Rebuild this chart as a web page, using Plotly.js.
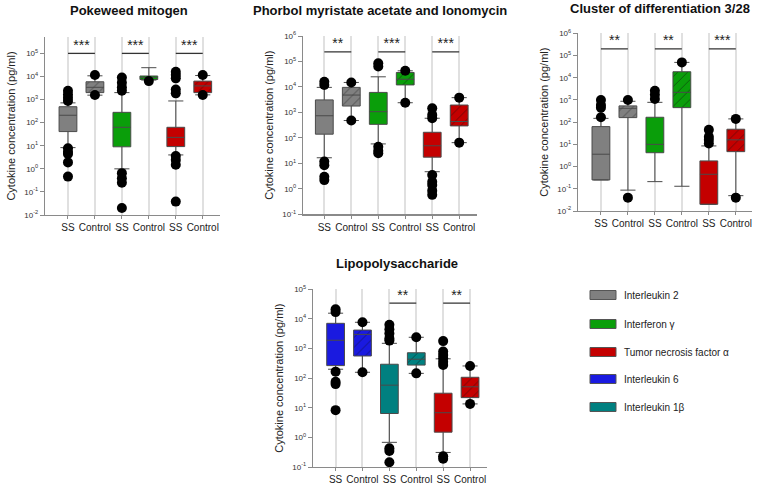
<!DOCTYPE html>
<html><head><meta charset="utf-8">
<script src="https://cdn.plot.ly/plotly-3.0.1.min.js"></script>
<style>body{margin:0;background:#fff}#chart{width:760px;height:486px}</style>
</head><body><div id="chart"></div>
<script>
// ---------- data ----------
const categories = ['SS', 'Control', 'SS', 'Control', 'SS', 'Control'];
const panelTitles = ['Pokeweed mitogen', 'Phorbol myristate acetate and Ionomycin', 'Cluster of differentiation 3/28', 'Lipopolysaccharide'];
const legendLabels = ['Interleukin 2', 'Interferon γ', 'Tumor necrosis factor α', 'Interleukin 6', 'Interleukin 1β'];

// Pokeweed mitogen (IL-2, IFN-γ, TNF-α)
const pwmQ1  = [41, 2000, 9, 7400, 9.2, 2000];
const pwmMed = [209, 3400, 63, 9100, 23, 3900];
const pwmQ3  = [490, 5900, 280, 10500, 63, 6300];
const pwmLo  = [8.3, 1550, 1, 7000, 4, 1600];
const pwmHi  = [720, 10700, 2000, 24000, 870, 11000];
const pwmOut = [[2400, 1660, 1200, 870, 7.8, 5.5, 4.4, 1.9, 0.46], [11500, 1580],
                [9000, 5400, 3400, 2400, 0.65, 0.39, 0.25, 0.02], [6300],
                [16000, 11500, 8300, 2750, 1860, 3.6, 2.4, 1.5, 0.038], [11500, 1580]];
const pwmSig = ['***', '***', '***'];
const pwmSigLevel = 100000;

// PMA + Ionomycin
const pmaQ1  = [140, 1780, 340, 12000, 17.5, 295];
const pmaMed = [740, 4800, 1070, 20000, 49, 440];
const pmaQ3  = [3100, 9600, 6100, 37000, 166, 1950];
const pmaLo  = [16.6, 480, 58, 2400, 4.7, 65];
const pmaHi  = [9600, 15000, 25000, 43000, 590, 3800];
const pmaOut = [[16000, 12000, 11.7, 8.5, 3, 2.2], [15000, 480],
                [85000, 63000, 45, 31, 25], [43000, 2400],
                [1450, 800, 590, 3.5, 1.9, 1.4, 0.85, 0.58], [3800, 65]];
const pmaSig = ['**', '***', '***'];
const pmaSigLevel = 240000;

// CD3/28
const cdQ1  = [0.25, 160, 4.2, 450, 0.02, 4.7];
const cdMed = [3.6, 420, 10, 2200, 0.45, 16];
const cdQ3  = [63, 540, 166, 18600, 1.8, 48];
const cdLo  = [0.25, 0.087, 0.21, 0.13, 0.02, 0.049];
const cdHi  = [148, 870, 780, 49000, 8.5, 140];
const cdOut = [[1000, 590, 450, 165], [1000, 0.04],
               [2600, 1700, 1100], [49000],
               [45, 22, 16, 11], [140, 0.04]];
const cdSig = ['**', '**', '***'];
const cdSigLevel = 200000;

// Lipopolysaccharide (IL-6, IL-1β, TNF-α)
const lpsQ1  = [265, 560, 6.4, 276, 1.5, 22];
const lpsMed = [1900, 3000, 58, 435, 6.8, 51];
const lpsQ3  = [7100, 4200, 295, 720, 31, 107];
const lpsLo  = [200, 158, 0.68, 145, 0.31, 13.5];
const lpsHi  = [15600, 7700, 1500, 2400, 450, 258];
const lpsOut = [[21000, 17000, 166, 76, 63, 8.3], [7700, 158],
                [6300, 4500, 3200, 2200, 1850, 0.43, 0.35, 0.145], [2400, 145],
                [1780, 790, 600, 470, 360, 277, 0.23, 0.19], [258, 13.5]];
const lpsSig = ['', '**', '**'];
const lpsSigLevel = 34000;

// ---------- styling ----------
const C = {il2: '#808080', ifn: '#0a9e0a', tnf: '#c40000', il6: '#1a1ae0', il1: '#008080'};
const legendColors = [C.il2, C.ifn, C.tnf, C.il6, C.il1];
const FONT = 'Liberation Sans, Arial, sans-serif';

const panels = [
  {ax: '', q1: pwmQ1, med: pwmMed, q3: pwmQ3, lo: pwmLo, hi: pwmHi, out: pwmOut, sig: pwmSig, lvl: pwmSigLevel,
   colors: [C.il2, C.il2, C.ifn, C.ifn, C.tnf, C.tnf],
   xdom: [45/760, 220/760], ydom: [1-215/486, 1-37/486], xr: [-0.852, 5.64], yr: [-2, 5.71]},
  {ax: '2', q1: pmaQ1, med: pmaMed, q3: pmaQ3, lo: pmaLo, hi: pmaHi, out: pmaOut, sig: pmaSig, lvl: pmaSigLevel,
   colors: [C.il2, C.il2, C.ifn, C.ifn, C.tnf, C.tnf],
   xdom: [303/760, 477/760], ydom: [1-214.3/486, 1-36/486], xr: [-0.79, 5.66], yr: [-1, 6]},
  {ax: '3', q1: cdQ1, med: cdMed, q3: cdQ3, lo: cdLo, hi: cdHi, out: cdOut, sig: cdSig, lvl: cdSigLevel,
   colors: [C.il2, C.il2, C.ifn, C.ifn, C.tnf, C.tnf],
   xdom: [578/760, 752/760], ydom: [1-211/486, 1-33.3/486], xr: [-0.85, 5.6], yr: [-2, 6]},
  {ax: '4', q1: lpsQ1, med: lpsMed, q3: lpsQ3, lo: lpsLo, hi: lpsHi, out: lpsOut, sig: lpsSig, lvl: lpsSigLevel,
   colors: [C.il6, C.il6, C.il1, C.il1, C.tnf, C.tnf],
   xdom: [313/760, 487/760], ydom: [1-467/486, 1-289.3/486], xr: [-0.84, 5.63], yr: [-1, 5]}
];
const titlePos = [[129, 11], [380, 10], [660, 9], [397, 263]];

const traces = [];
const layout = {
  width: 760, height: 486, margin: {l: 0, r: 0, t: 0, b: 0},
  paper_bgcolor: '#fff', plot_bgcolor: 'rgba(0,0,0,0)',
  showlegend: false, barmode: 'overlay',
  font: {family: FONT, color: '#222'},
  shapes: [], annotations: []
};

function supLabel(e) { return '10<sup>' + e + '</sup>'; }

panels.forEach((p, pi) => {
  const xa = 'x' + p.ax, ya = 'y' + p.ax;
  for (let i = 0; i < 6; i++) {
    const hatched = (i % 2 === 1);
    if (hatched) {
      // hatched fill of the control box (bars are drawn beneath boxes)
      traces.push({
        type: 'bar', x: [i], base: [p.q1[i]], y: [p.q3[i] - p.q1[i]],
        xaxis: xa, yaxis: ya, width: 0.66,
        marker: {color: p.colors[i], line: {width: 0},
                 pattern: {shape: '/', fgcolor: 'rgba(15,15,15,0.9)', size: 7, solidity: 0.14, fillmode: 'overlay'}},
        hoverinfo: 'skip', showlegend: false
      });
    }
    traces.push({
      type: 'box', x: [i], q1: [p.q1[i]], median: [p.med[i]], q3: [p.q3[i]],
      lowerfence: [p.lo[i]], upperfence: [p.hi[i]],
      xaxis: xa, yaxis: ya, width: 0.66, whiskerwidth: 0.85,
      fillcolor: hatched ? 'rgba(0,0,0,0)' : p.colors[i], line: {color: '#4a4a4a', width: 1},
      boxpoints: false, hoverinfo: 'skip', showlegend: false
    });
    traces.push({
      type: 'scatter', mode: 'markers', x: p.out[i].map(() => i), y: p.out[i],
      xaxis: xa, yaxis: ya, marker: {color: '#000', size: 10},
      hoverinfo: 'skip', showlegend: false
    });
  }
  // significance brackets
  for (let k = 0; k < 3; k++) {
    if (!p.sig[k]) continue;
    traces.push({
      type: 'scatter', mode: 'lines', x: [2*k, 2*k+1], y: [p.lvl, p.lvl],
      xaxis: xa, yaxis: ya, line: {color: '#333', width: 1.3},
      hoverinfo: 'skip', showlegend: false
    });
    traces.push({
      type: 'scatter', mode: 'text', x: [2*k + 0.5], y: [p.lvl], text: [p.sig[k]],
      textposition: 'top center', textfont: {size: 14, color: '#222', family: FONT},
      xaxis: xa, yaxis: ya, hoverinfo: 'skip', showlegend: false, cliponaxis: false
    });
  }
  const lo = Math.ceil(p.yr[0]), hi = Math.floor(p.yr[1]);
  const tv = [], tt = [];
  for (let e = lo; e <= hi; e++) { tv.push(Math.pow(10, e)); tt.push(supLabel(e)); }
  layout['xaxis' + p.ax] = {
    domain: p.xdom, range: p.xr, anchor: ya, tickmode: 'array',
    tickvals: [0, 1, 2, 3, 4, 5], ticktext: categories,
    showgrid: true, gridcolor: '#e0e0e0', gridwidth: 2, zeroline: false,
    showline: true, linecolor: '#8a8a8a', linewidth: 1.2,
    ticks: 'outside', ticklen: 3, tickcolor: '#8a8a8a',
    tickfont: {size: 10, color: '#222', family: FONT}, fixedrange: true
  };
  layout['yaxis' + p.ax] = {
    domain: p.ydom, type: 'log', range: p.yr, anchor: xa,
    tickmode: 'array', tickvals: tv, ticktext: tt,
    showgrid: false, zeroline: false, showline: true, linecolor: '#8a8a8a', linewidth: 1.2,
    ticks: 'outside', ticklen: 4, tickcolor: '#8a8a8a',
    tickfont: {size: 8, color: '#333', family: FONT},
    title: {text: 'Cytokine concentration (pg/ml)', font: {size: 11, color: '#222', family: FONT}, standoff: 6},
    fixedrange: true
  };
  layout.annotations.push({
    xref: 'paper', yref: 'paper', x: titlePos[pi][0] / 760, y: 1 - titlePos[pi][1] / 486,
    xanchor: 'center', yanchor: 'middle', showarrow: false,
    text: '<b>' + panelTitles[pi] + '</b>', font: {size: 13, color: '#111', family: FONT}
  });
});

// legend
const legY = [295, 324, 352, 379, 407];
legendLabels.forEach((lab, i) => {
  layout.shapes.push({
    type: 'rect', xref: 'paper', yref: 'paper',
    x0: 590/760, x1: 616/760, y0: 1 - (legY[i] + 4.5)/486, y1: 1 - (legY[i] - 4.5)/486,
    fillcolor: legendColors[i], line: {color: '#555', width: 1}
  });
  layout.annotations.push({
    xref: 'paper', yref: 'paper', x: 622/760, y: 1 - legY[i]/486,
    xanchor: 'left', yanchor: 'middle', showarrow: false,
    text: lab, font: {size: 10, color: '#222', family: FONT}
  });
});

Plotly.newPlot('chart', traces, layout, {staticPlot: true, displayModeBar: false});
</script>
</body></html>
